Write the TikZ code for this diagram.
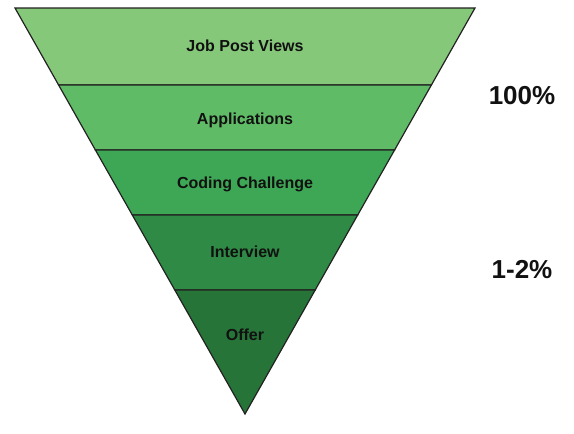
\documentclass[tikz,border=0pt]{standalone}
\usepackage{fontspec}
\setmainfont{Liberation Sans}
\definecolor{gA}{HTML}{86C87A}
\definecolor{gB}{HTML}{60BB66}
\definecolor{gC}{HTML}{3EA755}
\definecolor{gD}{HTML}{2E8A44}
\definecolor{gE}{HTML}{267438}
\definecolor{edge}{HTML}{222222}
\definecolor{ink}{HTML}{111111}
\tikzset{
  layer/.style={draw=edge, line width=1.2pt, line join=miter},
  lbl/.style={font=\fontsize{16}{19}\selectfont\bfseries, text=ink, inner sep=0pt},
  pct/.style={font=\fontsize{26}{30}\selectfont\bfseries, text=ink, inner sep=0pt}
}
\begin{document}
\begin{tikzpicture}[x=1pt,y=-1pt]
\useasboundingbox (0,0) rectangle (574,434);
\fill[white] (0,0) rectangle (574,434);
\path[layer, fill=gA] (15,8) -- (475,8) -- (431.4,85) -- (58.6,85) -- cycle;
\path[layer, fill=gB] (58.6,85) -- (431.4,85) -- (394.6,150) -- (95.4,150) -- cycle;
\path[layer, fill=gC] (95.4,150) -- (394.6,150) -- (357.7,215) -- (132.3,215) -- cycle;
\path[layer, fill=gD] (132.3,215) -- (357.7,215) -- (315.2,290) -- (174.8,290) -- cycle;
\path[layer, fill=gE] (174.8,290) -- (315.2,290) -- (245,414) -- cycle;
\node[lbl] (views) at (245,46) {Job Post Views};
\node[lbl] (apps) at (245,120) {Applications};
\node[lbl] (code) at (245,184) {Coding Challenge};
\node[lbl] (inter) at (245,252) {Interview};
\node[lbl] (offer) at (245,335) {Offer};
\node[pct] (p100) at (522,96) {100\%};
\node[pct] (p12) at (522,270) {1-2\%};
\end{tikzpicture}
\end{document}
